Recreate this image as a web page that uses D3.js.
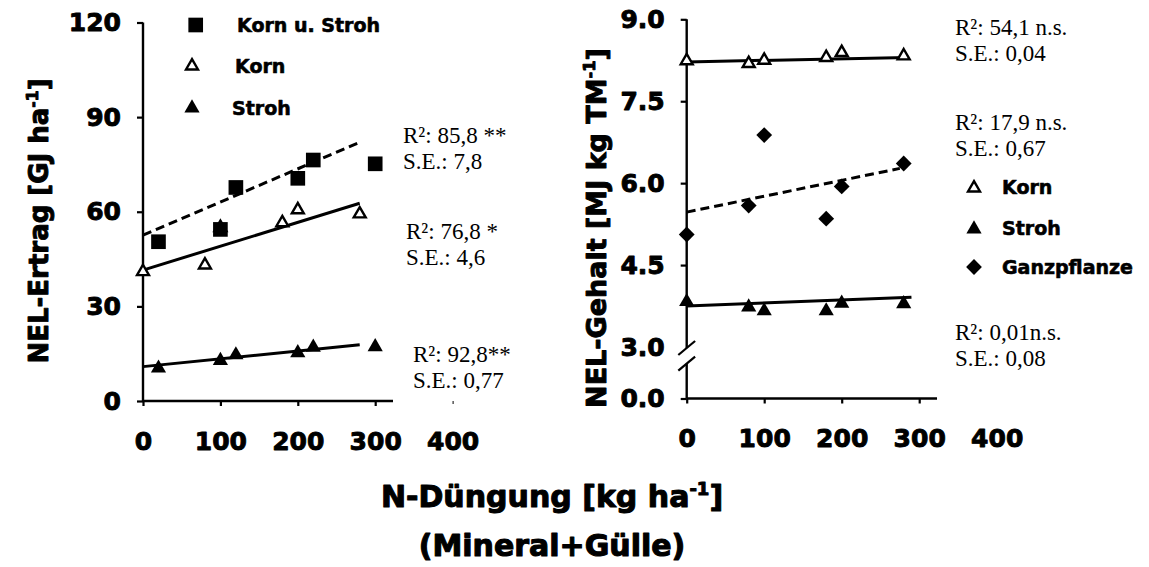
<!DOCTYPE html>
<html><head><meta charset="utf-8">
<script src="https://cdn.jsdelivr.net/npm/d3@7"></script>
<style>body{margin:0;background:#fff} svg{display:block}</style>
</head><body>
<script>
// ---------- DATA ----------
const xTicks = [0, 100, 200, 300, 400];
const leftYTicks = [0, 30, 60, 90, 120];
const rightYTicks = [0, 3, 4.5, 6, 7.5, 9];
const rightYTickLabels = ["0.0", "3.0", "4.5", "6.0", "7.5", "9.0"];

// left panel: NEL-Ertrag [GJ/ha]
const leftNa = [20, 100, 120, 200, 220, 300];
const leftNb = [0, 80, 100, 180, 200, 280];
const leftKornUStroh = [50.5, 54.4, 67.7, 70.6, 76.4, 75.2];
const leftKorn = [41.0, 43.1, 55.0, 56.5, 60.6, 59.3];
const leftStroh = [10.4, 12.8, 14.6, 15.3, 17.0, 17.2];
const leftTrendKornUStroh = [[0, 52.6], [280, 82.0]];
const leftTrendKorn = [[0, 41.5], [280, 62.7]];
const leftTrendStroh = [[0, 10.9], [280, 17.8]];

// right panel: NEL-Gehalt [MJ/kg TM]
const rightN = [0, 80, 100, 180, 200, 280];
const rightKorn = [8.24, 8.19, 8.25, 8.30, 8.39, 8.33];
const rightStroh = [3.83, 3.73, 3.66, 3.66, 3.80, 3.79];
const rightGanz = [5.06, 5.59, 6.88, 5.35, 5.94, 6.36];
const rightTrendKorn = [[0, 8.22], [285, 8.30]];
const rightTrendStroh = [[0, 3.75], [290, 3.91]];
const rightTrendGanz = [[0, 5.47], [275, 6.27]];

const leftLegend = ["Korn u. Stroh", "Korn", "Stroh"];
const rightLegend = ["Korn", "Stroh", "Ganzpflanze"];
const leftStats = [["R²: 85,8 **", "S.E.: 7,8"], ["R²: 76,8 *", "S.E.: 4,6"], ["R²: 92,8**", "S.E.: 0,77"]];
const rightStats = [["R²: 54,1 n.s.", "S.E.: 0,04"], ["R²: 17,9 n.s.", "S.E.: 0,67"], ["R²: 0,01n.s.", "S.E.: 0,08"]];

// ---------- DRAW ----------
const W = 1149, H = 567;
const svg = d3.select("body").append("svg").attr("width", W).attr("height", H);
const SANS = "'DejaVu Sans', sans-serif";
const SERIF = "'Liberation Serif', 'Times New Roman', serif";

const xL = d3.scaleLinear().domain([0, 400]).range([143, 452.6]);
const yL = d3.scaleLinear().domain([0, 120]).range([401, 22.5]);
const xR = d3.scaleLinear().domain([0, 400]).range([686.7, 996.7]);
const yR = d3.scaleLinear().domain([0, 3, 9]).range([398.5, 347, 19.3]);

function heavy(sel, size, sw) {
  return sel.attr("font-family", SANS).attr("font-weight", "bold").attr("font-size", size)
    .attr("fill", "#000").attr("stroke", "#000").attr("stroke-width", sw).attr("stroke-linejoin", "round");
}
function styleAxis(g) {
  heavy(g.selectAll("text"), 25, 0.9);
  g.selectAll(".tick line").attr("stroke", "#000").attr("stroke-width", 2.2);
}

// ----- left axes
const gLx = svg.append("g").attr("transform", `translate(0,${yL(0)})`)
  .call(d3.axisBottom(xL).tickValues(xTicks).tickSize(5).tickPadding(26).tickSizeOuter(0));
gLx.select(".domain").remove();
styleAxis(gLx);
gLx.selectAll(".tick").filter(d => d === 400).select("line").attr("stroke-width", 1).attr("y2", 3);
svg.append("line").attr("x1", xL(0)).attr("x2", xL(323)).attr("y1", yL(0)).attr("y2", yL(0))
  .attr("stroke", "#000").attr("stroke-width", 2.4);

const gLy = svg.append("g").attr("transform", `translate(${xL(0)},0)`)
  .call(d3.axisLeft(yL).tickValues(leftYTicks).tickSize(6).tickPadding(16).tickSizeOuter(0));
gLy.select(".domain").remove();
styleAxis(gLy);
svg.append("line").attr("x1", xL(0)).attr("x2", xL(0)).attr("y1", yL(120)).attr("y2", yL(0))
  .attr("stroke", "#000").attr("stroke-width", 2.4);

// ----- right axes
const gRx = svg.append("g").attr("transform", `translate(0,${yR(0)})`)
  .call(d3.axisBottom(xR).tickValues(xTicks).tickSize(5).tickPadding(26).tickSizeOuter(0));
gRx.select(".domain").remove();
styleAxis(gRx);
gRx.selectAll(".tick").filter(d => d === 400).select("line").remove();
svg.append("line").attr("x1", xR(0)).attr("x2", xR(323)).attr("y1", yR(0)).attr("y2", yR(0))
  .attr("stroke", "#000").attr("stroke-width", 2.4);

const gRy = svg.append("g").attr("transform", `translate(${xR(0)},0)`)
  .call(d3.axisLeft(yR).tickValues(rightYTicks).tickSize(6).tickPadding(16).tickSizeOuter(0)
    .tickFormat((d, i) => rightYTickLabels[i]));
gRy.select(".domain").remove();
styleAxis(gRy);
gRy.selectAll(".tick").filter(d => d === 3).select("line").remove();
// broken axis
const brk1 = yR(3) + 1, brk2 = yR(3) + 16.7;
svg.append("line").attr("x1", xR(0)).attr("x2", xR(0)).attr("y1", yR(9)).attr("y2", brk1)
  .attr("stroke", "#000").attr("stroke-width", 2.4);
svg.append("line").attr("x1", xR(0)).attr("x2", xR(0)).attr("y1", brk2).attr("y2", yR(0))
  .attr("stroke", "#000").attr("stroke-width", 2.4);
[brk1, brk2].forEach(c => {
  svg.append("line").attr("x1", xR(0) - 8.4).attr("y1", c + 7).attr("x2", xR(0) + 8.4).attr("y2", c - 7)
    .attr("stroke", "#000").attr("stroke-width", 2.2);
});

// ----- trend lines
const line = (xs, ys) => d3.line().x(d => xs(d[0])).y(d => ys(d[1]));
function trend(data, xs, ys, dashed) {
  svg.append("path").datum(data).attr("d", line(xs, ys)).attr("fill", "none")
    .attr("stroke", "#000").attr("stroke-width", 3)
    .attr("stroke-dasharray", dashed ? "9,5" : null);
}
trend(leftTrendKornUStroh, xL, yL, true);
trend(leftTrendKorn, xL, yL, false);
trend(leftTrendStroh, xL, yL, false);
trend(rightTrendKorn, xR, yR, false);
trend(rightTrendStroh, xR, yR, false);
trend(rightTrendGanz, xR, yR, true);

// ----- markers
const sym = {
  square: { type: d3.symbolSquare, size: 215, fill: "#000", stroke: "none", sw: 0, rot: 0 },
  openTri: { type: d3.symbolTriangle, size: 62, fill: "#fff", stroke: "#000", sw: 2.4, rot: 0 },
  fillTri: { type: d3.symbolTriangle, size: 100, fill: "#000", stroke: "none", sw: 0, rot: 0 },
  diamond: { type: d3.symbolSquare, size: 125, fill: "#000", stroke: "none", sw: 0, rot: 45 },
};
function marker(x, y, s) {
  svg.append("path").attr("d", d3.symbol().type(s.type).size(s.size)())
    .attr("transform", `translate(${x},${y}) rotate(${s.rot})`)
    .attr("fill", s.fill).attr("stroke", s.stroke).attr("stroke-width", s.sw)
    .attr("stroke-linejoin", "miter");
}
function series(xsArr, ysArr, xs, ys, s) {
  xsArr.forEach((n, i) => marker(xs(n), ys(ysArr[i]), s));
}
series(leftNb, leftKorn, xL, yL, sym.openTri);
series(leftNa, leftKornUStroh, xL, yL, sym.square);
series(leftNa, leftStroh, xL, yL, sym.fillTri);
series(rightN, rightKorn, xR, yR, sym.openTri);
series(rightN, rightStroh, xR, yR, sym.fillTri);
series(rightN, rightGanz, xR, yR, sym.diamond);

// ----- legends
function legendText(x, y, t) {
  heavy(svg.append("text").attr("x", x).attr("y", y).attr("dy", "0.36em").text(t), 19, 0.6);
}
marker(195.7, 25, sym.square); legendText(237, 25, leftLegend[0]);
marker(192, 66, sym.openTri); legendText(235, 66, leftLegend[1]);
marker(192, 108, sym.fillTri); legendText(232, 108, leftLegend[2]);
marker(974, 188, sym.openTri); legendText(1002, 187, rightLegend[0]);
marker(974, 229, sym.fillTri); legendText(1002, 228, rightLegend[1]);
marker(974, 267, sym.diamond); legendText(1002, 267, rightLegend[2]);

// ----- stats annotations
function stats(x, y, lines) {
  lines.forEach((t, i) => svg.append("text").attr("x", x).attr("y", y + i * 26).text(t)
    .attr("font-family", SERIF).attr("font-size", 23).attr("fill", "#000"));
}
stats(403, 143, leftStats[0]);
stats(406, 239, leftStats[1]);
stats(413, 362, leftStats[2]);
stats(955, 35, rightStats[0]);
stats(955, 130, rightStats[1]);
stats(955, 340, rightStats[2]);

// ----- axis titles
function title(x, y, rot, main, sup, tail, size) {
  const t = heavy(svg.append("text").attr("transform", `translate(${x},${y}) rotate(${rot})`)
    .attr("text-anchor", "middle"), size, size / 28);
  t.append("tspan").text(main);
  t.append("tspan").attr("font-size", size * 0.6).attr("dy", -size * 0.4).text(sup);
  t.append("tspan").attr("dy", size * 0.4).text(tail);
}
title(48, 221, -90, "NEL-Ertrag [GJ ha", "-1", "]", 26);
title(606, 228, -90, "NEL-Gehalt [MJ kg TM", "-1", "]", 27);
title(552, 507, 0, "N-Düngung [kg ha", "-1", "]", 30);
heavy(svg.append("text").attr("x", 552).attr("y", 556).attr("text-anchor", "middle"), 30, 1.1)
  .text("(Mineral+Gülle)");
</script>
</body></html>
